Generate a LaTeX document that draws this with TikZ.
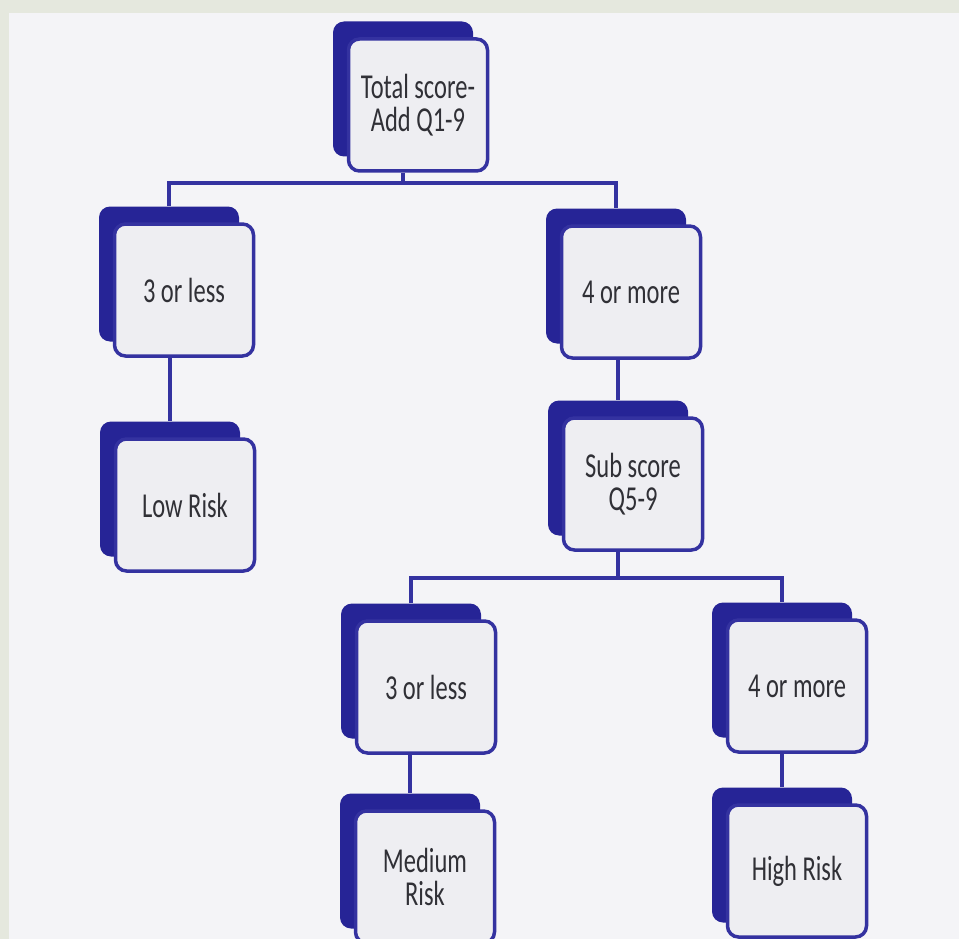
\documentclass[tikz,border=0pt]{standalone}
\usepackage{graphicx}
\usepackage{fontspec}
\setmainfont{Carlito}
\definecolor{navy}{RGB}{38,36,150}
\definecolor{edge}{RGB}{52,50,160}
\definecolor{boxfill}{RGB}{238,238,242}
\definecolor{txt}{RGB}{48,48,54}
\definecolor{slide}{RGB}{244,244,247}
\definecolor{framec}{RGB}{229,232,222}
\newcommand{\sqz}[1]{\scalebox{0.7}[1]{#1}}
\newcommand{\boxpair}[4]{%
  \node[backbox] (#1b) at (#2-15,#3-16) {};
  \node[frontbox] (#1) at (#2,#3) {#4};}
\tikzset{
  frontbox/.style={draw=edge, line width=3.5pt, fill=boxfill, rounded corners=11pt,
    minimum width=139pt, minimum height=132pt, inner sep=0pt, text=txt,
    font=\fontsize{35}{33}\selectfont, align=center},
  backbox/.style={fill=navy, rounded corners=11pt, minimum width=140pt,
    minimum height=135pt, inner sep=0pt},
  link/.style={draw=edge, line width=3.2pt}
}
\begin{document}
\begin{tikzpicture}[x=1pt,y=-1pt]
\useasboundingbox (0,0) rectangle (959,939);
\fill[framec] (0,0) rectangle (959,939);
\fill[slide] (9,13) rectangle (959,939);

\boxpair{t}{418}{105}{\sqz{Total score-}\\\sqz{Add Q1-9}}
\boxpair{l1}{184}{290}{\sqz{3 or less}}
\boxpair{r1}{631}{292}{\sqz{4 or more}}
\boxpair{lr}{185}{505}{\sqz{Low Risk}}
\boxpair{ss}{633}{484}{\sqz{Sub score}\\\sqz{Q5-9}}
\boxpair{l2}{426}{687}{\sqz{3 or less}}
\boxpair{r2}{797}{686}{\sqz{4 or more}}
\boxpair{mr}{425}{877}{\sqz{Medium}\\\sqz{Risk}}
\boxpair{hr}{797}{871}{\sqz{High Risk}}

\coordinate (j1) at (403,183);
\draw[link] (t.south -| tb.south) -- (j1);
\draw[link] (l1b.north) |- (j1) -| (r1b.north);
\draw[link] (lrb.north |- l1.south) -- (lrb.north);
\draw[link] (ssb.north |- r1.south) -- (ssb.north);
\coordinate (j2) at (618,578);
\draw[link] (ss.south -| ssb.south) -- (j2);
\draw[link] (l2b.north) |- (j2) -| (r2b.north);
\draw[link] (mrb.north |- l2.south) -- (mrb.north);
\draw[link] (hrb.north |- r2.south) -- (hrb.north);
\end{tikzpicture}
\end{document}
